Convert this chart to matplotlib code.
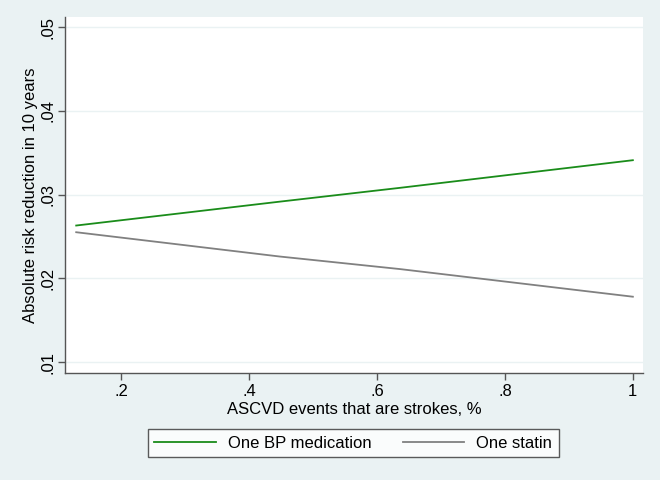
import matplotlib
matplotlib.use("Agg")
import matplotlib.pyplot as plt

plt.rcParams['font.family'] = ['Liberation Sans', 'DejaVu Sans']

x_bp = [0.13, 0.448, 0.636, 1.0]
bp_vals = [0.0263, 0.02915, 0.0308, 0.0341]
x_statin = [0.13, 0.448, 0.636, 1.0]
statin_vals = [0.0255, 0.0226, 0.0211, 0.0178]
x_ticks = [0.2, 0.4, 0.6, 0.8, 1.0]
x_ticklabels = ['.2', '.4', '.6', '.8', '1']
y_ticks = [0.01, 0.02, 0.03, 0.04, 0.05]
y_ticklabels = ['.01', '.02', '.03', '.04', '.05']

bg = '#EAF2F3'
fig = plt.figure(figsize=(6.6, 4.8), dpi=100, facecolor=bg)
ax = fig.add_axes([0.0985, 0.2229, 0.8755, 0.7417])
ax.set_facecolor('white')

ax.plot(x_bp, bp_vals, color='#1a8c1a', lw=1.3, label='One BP medication')
ax.plot(x_statin, statin_vals, color='#808080', lw=1.3, label='One statin')

ax.set_xlim(0.1125, 1.0156)
ax.set_ylim(0.00869, 0.0512)
ax.set_xticks(x_ticks)
ax.set_xticklabels(x_ticklabels, fontsize=12)
ax.set_yticks(y_ticks)
ax.set_yticklabels(y_ticklabels, fontsize=12, rotation=90, va='center')
ax.grid(axis='y', color=bg, lw=1)
ax.set_axisbelow(True)
for s in ['top', 'right']:
    ax.spines[s].set_visible(False)
for s in ['left', 'bottom']:
    ax.spines[s].set_color('#555555')
    ax.spines[s].set_linewidth(1.0)
ax.tick_params(axis='x', length=5, width=1, color='#555555', pad=3)
ax.tick_params(axis='y', length=5, width=1, color='#555555', pad=1.5)
ax.set_xlabel('ASCVD events that are strokes, %', fontsize=12, labelpad=2)
ax.set_ylabel('Absolute risk reduction in 10 years', fontsize=12, labelpad=2)

leg = fig.legend(loc='center', bbox_to_anchor=(0.535, 0.077), ncol=2, fontsize=12,
                 frameon=True, fancybox=False, edgecolor='#333333', handlelength=3.7,
                 columnspacing=1.9, borderpad=0.4, handletextpad=0.7)
leg.get_frame().set_linewidth(1.0)

fig.savefig('out.png', dpi=100, facecolor=bg)
